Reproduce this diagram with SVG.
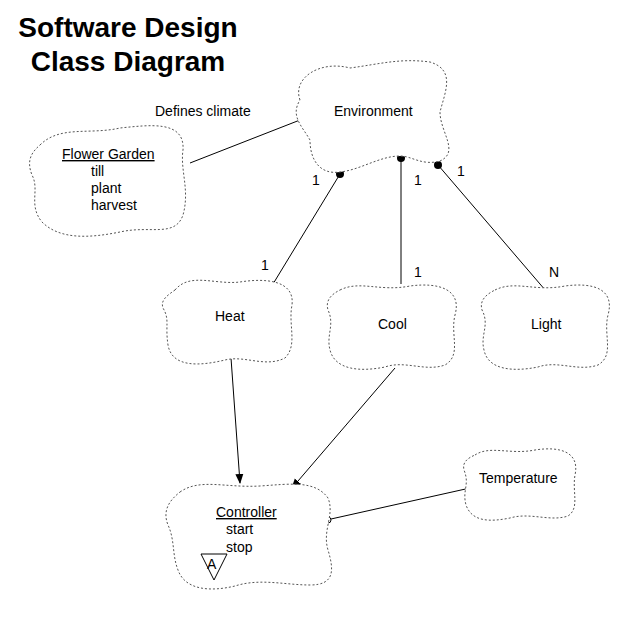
<svg xmlns="http://www.w3.org/2000/svg" width="623" height="623" viewBox="0 0 623 623">
<style>
text{font-family:"Liberation Sans",Arial,sans-serif;font-size:14px;fill:#000}
.cloud{fill:#fff;stroke:#555;stroke-width:1;stroke-dasharray:2,2}
.ln{stroke:#000;stroke-width:1;fill:none}
.t{font-size:28px;font-weight:bold;text-anchor:middle}
</style>
<defs><marker id="ar" markerWidth="10" markerHeight="10" refX="9" refY="5" orient="auto" markerUnits="userSpaceOnUse"><path d="M0,1 L10,5 L0,9 Z" fill="#000"/></marker></defs>
<rect width="623" height="623" fill="#fff"/>
<text class="t" x="128" y="37">Software Design</text>
<text class="t" x="128" y="71">Class Diagram</text>
<g id="connectors">
<line class="ln" x1="190" y1="163" x2="300" y2="120"/>
<line class="ln" x1="273" y1="284" x2="340" y2="174"/>
<circle cx="340" cy="174" r="4" fill="#000"/>
<line class="ln" x1="401" y1="158" x2="401" y2="284" stroke-width="2"/>
<circle cx="401" cy="158" r="4" fill="#000"/>
<line class="ln" x1="438" y1="165" x2="546" y2="291"/>
<circle cx="438" cy="165" r="4" fill="#000"/>
<line class="ln" x1="231" y1="358" x2="240" y2="483" marker-end="url(#ar)"/>
<line class="ln" x1="395" y1="368" x2="292" y2="488" marker-end="url(#ar)"/>
<line class="ln" x1="331" y1="519" x2="470" y2="488"/>
<circle cx="328" cy="520" r="3" fill="#fff" stroke="#000"/>
<text x="155" y="116">Defines climate</text>
<text x="312" y="185">1</text><text x="414" y="185">1</text><text x="457" y="176">1</text>
<text x="261" y="270">1</text><text x="414" y="277">1</text><text x="549" y="277">N</text>
</g>
<g id="environment">
<path class="cloud" d="M300,100 C292,78 320,60 350,68 C380,64 400,58 430,62 C456,70 445,92 440,112 C440,132 460,152 440,161 C422,166 412,156 400,156 C380,156 360,170 340,172 C320,175 310,160 310,140 C302,126 290,116 300,100 Z"/>
<text x="334" y="116">Environment</text>
</g>
<g id="flower-garden">
<path class="cloud" d="M40,145 C60,125 90,135 120,128 C150,125 185,120 183,150 C180,170 190,190 183,215 C175,238 150,225 120,232 C90,238 60,240 42,222 C28,205 40,190 32,175 C26,160 32,152 40,145 Z"/>
<text x="62" y="159" text-decoration="underline">Flower Garden</text>
<text x="91" y="176">till</text><text x="91" y="193">plant</text><text x="91" y="210">harvest</text>
</g>
<g id="heat">
<path class="cloud" d="M175,290 C190,272 215,285 240,282 C265,278 295,280 292,305 C288,325 298,345 285,358 C265,368 245,355 225,360 C200,366 172,368 168,345 C165,325 170,320 163,308 C160,300 168,295 175,290 Z"/>
<text x="215" y="321">Heat</text>
</g>
<g id="cool">
<path class="cloud" d="M340,290 C360,280 380,292 410,286 C440,282 462,290 455,315 C450,335 462,355 445,365 C425,372 405,360 385,367 C360,372 335,370 330,350 C326,335 335,325 328,310 C325,300 332,294 340,290 Z"/>
<text x="378" y="329">Cool</text>
</g>
<g id="light">
<path class="cloud" d="M495,290 C515,280 535,292 565,286 C595,282 615,290 608,315 C603,335 615,355 598,365 C578,372 558,360 538,367 C513,372 488,370 484,350 C480,335 490,325 482,310 C479,300 487,294 495,290 Z"/>
<text x="531" y="329">Light</text>
</g>
<g id="controller">
<path class="cloud" d="M180,492 C200,478 225,488 260,486 C290,484 315,480 328,498 C335,515 322,530 328,550 C334,570 335,585 310,585 C285,585 260,578 235,586 C210,592 185,590 178,570 C172,555 175,540 168,525 C162,510 170,500 180,492 Z"/>
<text x="216" y="517" text-decoration="underline">Controller</text>
<text x="226" y="534">start</text><text x="226" y="552">stop</text>
<path d="M201,554 L227,554 L214,580 Z" fill="none" stroke="#000"/>
<text x="207" y="569">A</text>
</g>
<g id="temperature">
<path class="cloud" d="M475,455 C490,445 510,455 535,450 C560,446 580,452 575,475 C572,492 580,508 568,516 C550,522 530,512 510,518 C490,522 472,522 466,505 C462,490 470,485 464,470 C462,462 468,458 475,455 Z"/>
<text x="479" y="483">Temperature</text>
</g>
</svg>
